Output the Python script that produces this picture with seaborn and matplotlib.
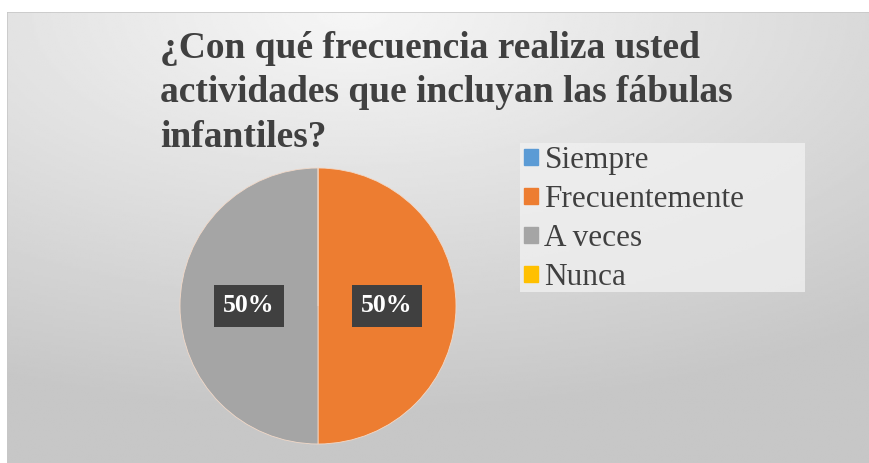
import matplotlib.pyplot as plt
import matplotlib.patches as mpatches
import numpy as np
import seaborn as sns

# data
categories = ["Siempre", "Frecuentemente", "A veces", "Nunca"]
shares = [0, 50, 50, 0]
colors = ["#5B9BD5", "#ED7D31", "#A5A5A5", "#FFC000"]
title_lines = ["¿Con qué frecuencia realiza usted",
               "actividades que incluyan las fábulas",
               "infantiles?"]

sns.set_style("white")
plt.rcParams["font.family"] = ["Liberation Serif", "DejaVu Serif"]

W, H = 870, 463
fig = plt.figure(figsize=(W / 100, H / 100), dpi=100)
fig.patch.set_facecolor("white")

# gradient background of the chart area
bg = fig.add_axes([7 / W, 0, 1 - 7 / W, (H - 12) / H])
yy, xx = np.mgrid[0:1:200j, 0:1:400j]
dist = np.sqrt(((xx - 0.4) * 1.0) ** 2 + (yy * 1.1) ** 2)
shade = np.clip(0.965 - 0.19 * dist, 0.78, 0.97)
bg.imshow(shade, cmap="gray", vmin=0, vmax=1, aspect="auto", extent=[0, 1, 1, 0])
bg.set_axis_off()
bg.add_patch(mpatches.Rectangle((0, 0), 1, 1, transform=bg.transAxes,
                                fill=False, ec="#C8C8C8", lw=1.2))

# legend background box
fig.patches.append(mpatches.Rectangle((520 / W, 1 - 292 / H), 285 / W, 149 / H,
                                      transform=fig.transFigure, fc="#F0F0F0",
                                      alpha=0.8, ec="none", zorder=1))

# pie
cx, cy, r = 318, 306, 138
ax = fig.add_axes([(cx - r) / W, (H - cy - r) / H, 2 * r / W, 2 * r / H])
wedges, texts, autotexts = ax.pie(
    shares, colors=colors, startangle=90, counterclock=False,
    autopct=lambda p: f"{p:.0f}%" if p > 0 else "",
    pctdistance=0.5, wedgeprops=dict(edgecolor="#F2D9C8", linewidth=0.6),
    textprops=dict(color="white", fontsize=18.5, fontweight="bold"),
)
for t in autotexts:
    t.set_bbox(dict(boxstyle="square,pad=0.36", fc="#404040", ec="none"))
ax.set_xlim(-1, 1)
ax.set_ylim(-1, 1)
ax.set_aspect("equal")

# title, one line at a time
for i, line in enumerate(title_lines):
    fig.text(160 / W, 1 - (48 + 44.5 * i) / H, line, ha="left", va="center",
             fontsize=27, fontweight="bold", color="#404040")

# legend
handles = [mpatches.Patch(color=c, label=l) for c, l in zip(colors, categories)]
leg = fig.legend(handles=handles, loc="upper left", bbox_to_anchor=(521 / W, 1 - 143 / H),
                 fontsize=22.5, frameon=False, handlelength=0.45,
                 handleheight=0.45, handletextpad=0.2, labelspacing=0.32,
                 borderpad=0.1, borderaxespad=0)
for t in leg.get_texts():
    t.set_color("#404040")

fig.savefig("out.png", dpi=100)
